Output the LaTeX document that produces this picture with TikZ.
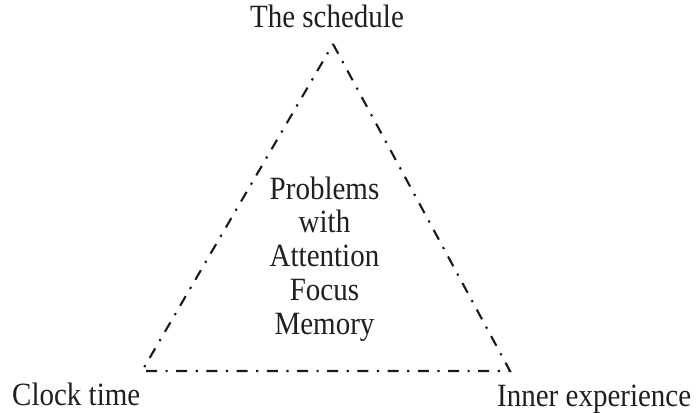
\documentclass[tikz,border=0pt]{standalone}
\usepackage{fontspec}
\setmainfont{Liberation Serif}
\newcommand{\vs}[1]{\scalebox{1}[1.12]{#1}}
\begin{document}
\begin{tikzpicture}[x=1pt,y=-1pt,
  lbl/.style={inner sep=0pt,font=\fontsize{29}{33.8}\selectfont,text=black!88},
  tri/.style={line width=2.1pt,draw=black!90,dash pattern=on 11pt off 8.5pt on 2.2pt off 8.5pt}]
\useasboundingbox (0,0) rectangle (698,412);
\coordinate (top) at (333,44);
\coordinate (bl) at (142,371);
\coordinate (br) at (510,371);
\draw[tri] (top) -- (br) -- (bl) -- cycle;
\node[lbl,anchor=base] (sched) at (327,28) {\vs{The schedule}};
\node[lbl,anchor=base west] (clock) at (12,405) {\vs{Clock time}};
\node[lbl,anchor=base west] (inner) at (497,406) {\vs{Inner experience}};
\node[lbl,align=center] (prob) at (324.5,259) {\vs{Problems}\\\vs{with}\\\vs{Attention}\\\vs{Focus}\\\vs{Memory}};
\end{tikzpicture}
\end{document}
